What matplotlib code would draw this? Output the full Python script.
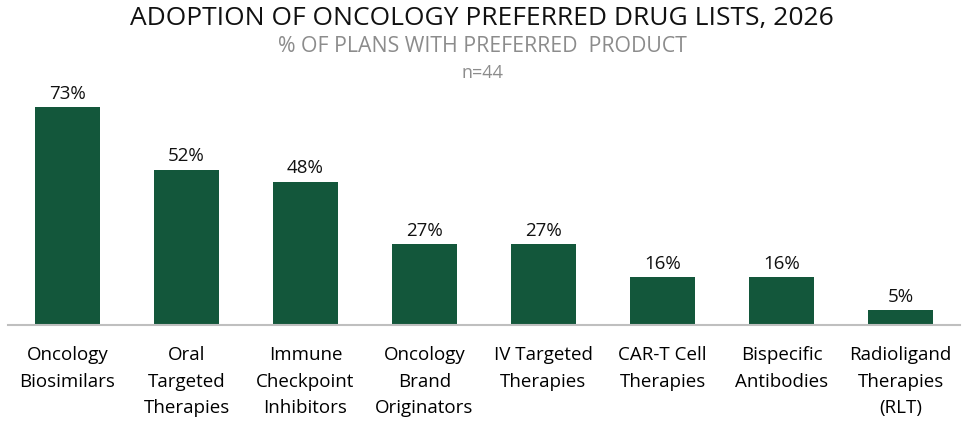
import matplotlib.pyplot as plt

plt.rcParams['font.family'] = ['Open Sans', 'DejaVu Sans']

# data
categories = ['Oncology\nBiosimilars', 'Oral\nTargeted\nTherapies', 'Immune\nCheckpoint\nInhibitors',
              'Oncology\nBrand\nOriginators', 'IV Targeted\nTherapies', 'CAR-T Cell\nTherapies',
              'Bispecific\nAntibodies', 'Radioligand\nTherapies\n(RLT)']
values = [73, 52, 48, 27, 27, 16, 16, 5]

fig = plt.figure(figsize=(9.68, 4.21), dpi=100)
ax = fig.add_axes([8 / 968, 96 / 421, 952 / 968, 239 / 421])

x = range(len(values))
bars = ax.bar(x, values, width=0.54, color='#13573b')
for b, v in zip(bars, values):
    ax.annotate(f'{v}%', (b.get_x() + b.get_width() / 2, v), xytext=(0, 3),
                textcoords='offset points', ha='center', va='bottom',
                fontsize=13.5, color='#111111')

ax.set_xlim(-0.5, 7.5)
ax.set_ylim(0, 80)
ax.set_yticks([])
ax.set_xticks(list(x))
ax.set_xticklabels(categories, fontsize=13.5, linespacing=1.62, va='top')
ax.tick_params(axis='x', length=0, pad=15)
for s in ['top', 'right', 'left']:
    ax.spines[s].set_visible(False)
ax.spines['bottom'].set_color('#bfbfbf')
ax.spines['bottom'].set_linewidth(1.5)

fig.text(0.498, 1 - 18 / 421, 'ADOPTION OF ONCOLOGY PREFERRED DRUG LISTS, 2026', ha='center', va='center',
         fontsize=19, color='#111111')
fig.text(0.498, 1 - 46 / 421, '% OF PLANS WITH PREFERRED  PRODUCT', ha='center', va='center',
         fontsize=15.3, color='#8c8c8c')
fig.text(0.498, 1 - 73 / 421, 'n=44', ha='center', va='center',
         fontsize=13, color='#8c8c8c')

fig.savefig('out.png', dpi=100)
